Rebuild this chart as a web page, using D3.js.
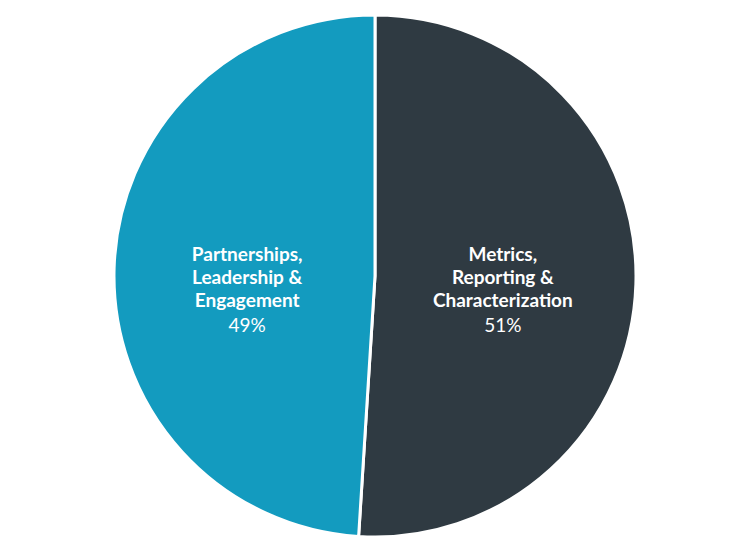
<!DOCTYPE html>
<html><head><meta charset="utf-8">
<script src="https://cdn.jsdelivr.net/npm/d3@7"></script>
<style>html,body{margin:0;padding:0;background:#fff;}</style>
</head><body>
<svg id="chart" width="750" height="548"></svg>
<script>
const categories = ["Metrics, Reporting & Characterization", "Partnerships, Leadership & Engagement"];
const labelLines = [["Metrics,", "Reporting &", "Characterization"], ["Partnerships,", "Leadership &", "Engagement"]];
const values = [51, 49];
const colors = ["#2f3a42", "#139bbf"];

const svg = d3.select("#chart");
const cx = 375, cy = 276, r = 261;
const g = svg.append("g").attr("transform", `translate(${cx},${cy})`);

const pie = d3.pie().sort(null).value(d => d.value);
const data = pie(categories.map((c, i) => ({name: c, value: values[i], lines: labelLines[i], color: colors[i]})));
const arc = d3.arc().innerRadius(0).outerRadius(r);
const labelArc = d3.arc().innerRadius(r * 0.49).outerRadius(r * 0.49);

g.selectAll("path").data(data).join("path")
  .attr("d", arc)
  .attr("fill", d => d.data.color)
  .attr("stroke", "#fff")
  .attr("stroke-width", 3)
  .attr("stroke-linejoin", "miter");

const labels = g.selectAll("text.lbl").data(data).join("text")
  .attr("class", "lbl")
  .attr("text-anchor", "middle")
  .attr("fill", "#fff")
  .attr("font-family", "Lato, 'Open Sans', sans-serif")
  .attr("font-size", 19)
  .attr("transform", d => {
    const [x, y] = labelArc.centroid(d);
    return `translate(${x},${y})`;
  });

labels.each(function(d) {
  const t = d3.select(this);
  const lh = 23;
  const [x, y] = labelArc.centroid(d);
  const top = 261 - cy - y;
  d.data.lines.forEach((ln, i) => {
    t.append("tspan").attr("x", 0).attr("y", top + i * lh).attr("font-weight", 700).text(ln);
  });
  t.append("tspan").attr("x", 0).attr("y", top + 3 * lh + 2).attr("font-weight", 400)
    .text(d3.format(".0f")(d.data.value) + "%");
});
</script>
</body></html>
